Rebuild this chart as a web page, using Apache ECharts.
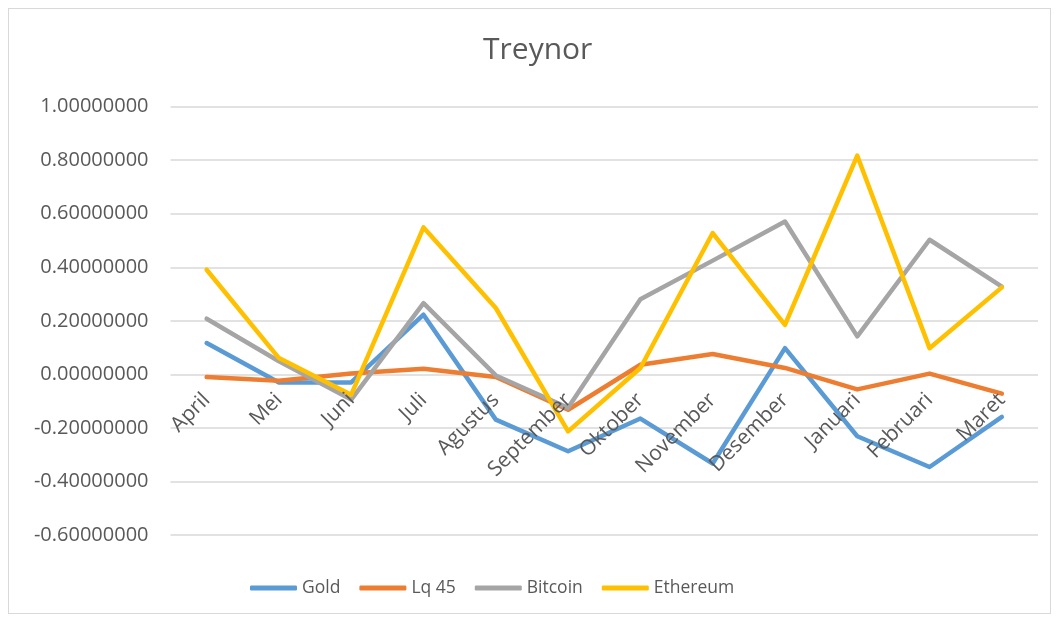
<!DOCTYPE html>
<html>
<head>
<meta charset="utf-8">
<script src="https://cdn.jsdelivr.net/npm/echarts@6/dist/echarts.min.js"></script>
<style>
html,body{margin:0;padding:0;background:#fff;}
#frame{position:absolute;left:8px;top:8px;width:1043px;height:606px;border:1px solid #d9d9d9;box-sizing:border-box;}
#chart{position:absolute;left:0;top:0;width:1059px;height:621px;}
</style>
</head>
<body>
<div id="frame"></div>
<div id="chart"></div>
<script>
const categories = ['April','Mei','Juni','Juli','Agustus','September','Oktober','November','Desember','Januari','Februari','Maret'];
const gold     = [0.117, -0.030, -0.030, 0.223, -0.169, -0.287, -0.165, -0.333, 0.098, -0.231, -0.346, -0.159];
const lq45     = [-0.010, -0.024, 0.003, 0.021, -0.010, -0.132, 0.036, 0.076, 0.024, -0.056, 0.003, -0.072];
const bitcoin  = [0.208, 0.049, -0.094, 0.266, -0.004, -0.125, 0.281, 0.425, 0.571, 0.142, 0.503, 0.328];
const ethereum = [0.391, 0.061, -0.076, 0.549, 0.248, -0.213, 0.024, 0.528, 0.185, 0.817, 0.098, 0.325];
const seriesNames = ['Gold','Lq 45','Bitcoin','Ethereum'];
const colors = ['#5B9BD5','#ED7D31','#A5A5A5','#FFC000'];
const seriesData = [gold, lq45, bitcoin, ethereum];

const font = '"Open Sans", sans-serif';
const chart = echarts.init(document.getElementById('chart'));
chart.setOption({
  animation: false,
  title: {
    text: 'Treynor', left: 478, top: 30,
    textStyle: {fontFamily: font, fontSize: 30, fontWeight: 'normal', color: '#595959'}
  },
  legend: {
    left: 250, top: 579, padding: 0, itemWidth: 47, itemHeight: 5, itemGap: 19, icon: 'roundRect',
    textStyle: {fontFamily: font, fontSize: 17.5, color: '#595959'},
    data: seriesNames
  },
  grid: {left: 170.5, right: 21, top: 106.7, bottom: 86, containLabel: false},
  xAxis: {
    type: 'category', data: categories, boundaryGap: true,
    offset: -160.3, z: 5,
    axisLine: {show: false, onZero: false},
    axisTick: {show: false},
    axisLabel: {rotate: 45, margin: 22, interval: 0, fontFamily: font, fontSize: 21, color: '#595959'}
  },
  yAxis: {
    type: 'value', min: -0.6, max: 1.0, interval: 0.2,
    axisLine: {show: false}, axisTick: {show: false},
    splitLine: {lineStyle: {color: '#d9d9d9', width: 1.5}},
    axisLabel: {margin: 22, fontFamily: font, fontSize: 20, color: '#595959',
      formatter: v => (Math.abs(v) < 1e-9 ? 0 : v).toFixed(8)}
  },
  series: seriesData.map((d, i) => ({
    name: seriesNames[i], type: 'line', data: d, symbol: 'none',
    color: colors[i], z: 2,
    lineStyle: {width: 4.5, color: colors[i], cap: 'round', join: 'round'}
  }))
});
</script>
</body>
</html>
